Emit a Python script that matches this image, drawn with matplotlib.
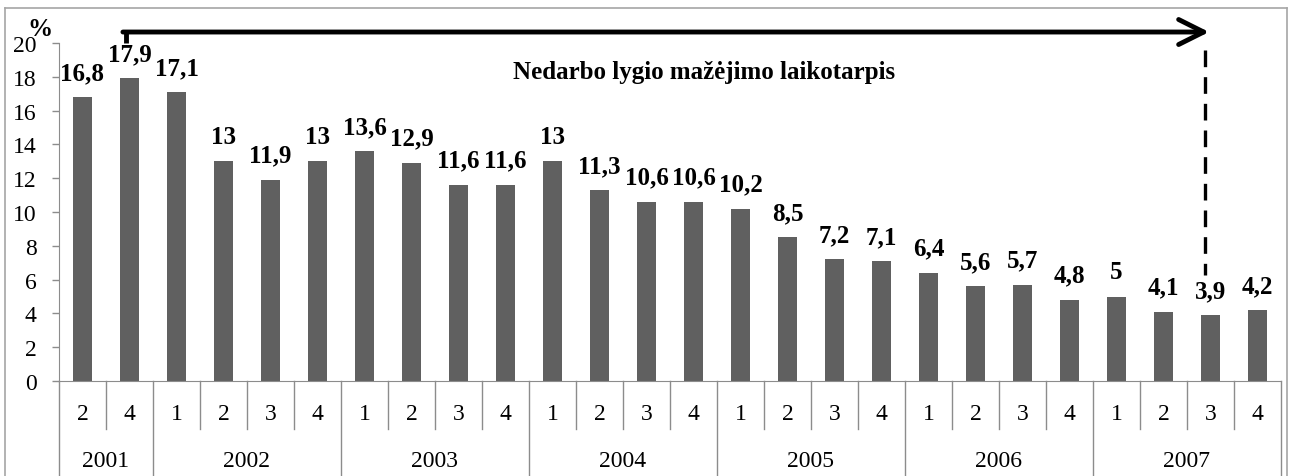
import matplotlib.pyplot as plt
import matplotlib.transforms as mtransforms
from matplotlib.lines import Line2D

quarters = ["2", "4", "1", "2", "3", "4", "1", "2", "3", "4", "1", "2", "3", "4",
            "1", "2", "3", "4", "1", "2", "3", "4", "1", "2", "3", "4"]
years = ["2001", "2002", "2003", "2004", "2005", "2006", "2007"]
quarters_per_year = [2, 4, 4, 4, 4, 4, 4]
unemployment = [16.8, 17.9, 17.1, 13, 11.9, 13, 13.6, 12.9, 11.6, 11.6, 13, 11.3,
                10.6, 10.6, 10.2, 8.5, 7.2, 7.1, 6.4, 5.6, 5.7, 4.8, 5, 4.1, 3.9, 4.2]
yticks = [0, 2, 4, 6, 8, 10, 12, 14, 16, 18, 20]
arrow_text = "Nedarbo lygio mažėjimo laikotarpis"

plt.rcParams['font.family'] = ['Liberation Serif', 'DejaVu Serif']

GRID = "#8c8c8c"
BAR = "#606060"

fig = plt.figure(figsize=(12.95, 4.77), dpi=100)
ax = fig.add_axes([59 / 1295, 1 - 382 / 477, 1222 / 1295, 338 / 477])

x = list(range(len(unemployment)))
ax.bar(x, unemployment, width=0.4, color=BAR, zorder=2)

for xi, v in zip(x, unemployment):
    lab = ("%g" % v).replace(".", ",")
    ax.annotate(lab, (xi, v), xytext=(0, 9.5), textcoords="offset points",
                ha="center", va="bottom", fontsize=18, fontweight="bold")

ax.set_xlim(-0.5, len(x) - 0.5)
ax.set_ylim(0, 20)
ax.set_yticks(yticks)
ax.tick_params(axis="y", direction="out", length=5, width=1, color=GRID,
               labelsize=17, pad=11)
ax.set_xticks([])
for s in ["top", "right"]:
    ax.spines[s].set_visible(False)
ax.spines["left"].set_color(GRID)
ax.spines["bottom"].set_color(GRID)

# category table below the axis
tr = mtransforms.blended_transform_factory(ax.transData, ax.transAxes)
row1 = -48 / 338
row2 = -95 / 338
year_bounds = [-0.5]
for n in quarters_per_year:
    year_bounds.append(year_bounds[-1] + n)
for i in range(len(x) + 1):
    b = i - 0.5
    y0 = row2 if b in year_bounds else row1
    ax.add_line(Line2D([b, b], [0, y0], transform=tr, color=GRID, lw=1,
                       clip_on=False))
for xi, q in zip(x, quarters):
    ax.text(xi, -33 / 338, q, transform=tr, ha="center", va="center", fontsize=17)
for i, yr in enumerate(years):
    mid = (year_bounds[i] + year_bounds[i + 1]) / 2
    ax.text(mid, -80 / 338, yr, transform=tr, ha="center", va="center", fontsize=17)

# arrow showing the period of decreasing unemployment
ax.plot([0.92, 0.92], [20.0, 20.65], color="black", lw=3.5, clip_on=False,
        solid_capstyle="butt")
ax.annotate("", xy=(23.97, 20.65), xytext=(0.86, 20.65),
            arrowprops=dict(arrowstyle="->,head_length=0.4,head_width=0.2",
                            color="black", lw=3.5, mutation_scale=45,
                            shrinkA=0, shrinkB=0),
            annotation_clip=False)
ax.plot([23.88, 23.88], [19.6, 6.3], color="black", lw=2.4,
        dashes=(5, 3), clip_on=False)
ax.text(13.22, 18.3, arrow_text, ha="center", va="center", fontsize=18,
        fontweight="bold")

fig.text(40 / 1295, 1 - 29 / 477, "%", ha="center", va="center", fontsize=18,
         fontweight="bold")

# outer frame
for xs, ys in [([5, 1287], [9, 9]), ([5, 5], [9, 477]), ([1287, 1287], [9, 477])]:
    fig.add_artist(Line2D([p / 1295 for p in xs], [1 - p / 477 for p in ys],
                          transform=fig.transFigure, color="#a6a6a6", lw=1.2))

fig.savefig("out.png", dpi=100)
